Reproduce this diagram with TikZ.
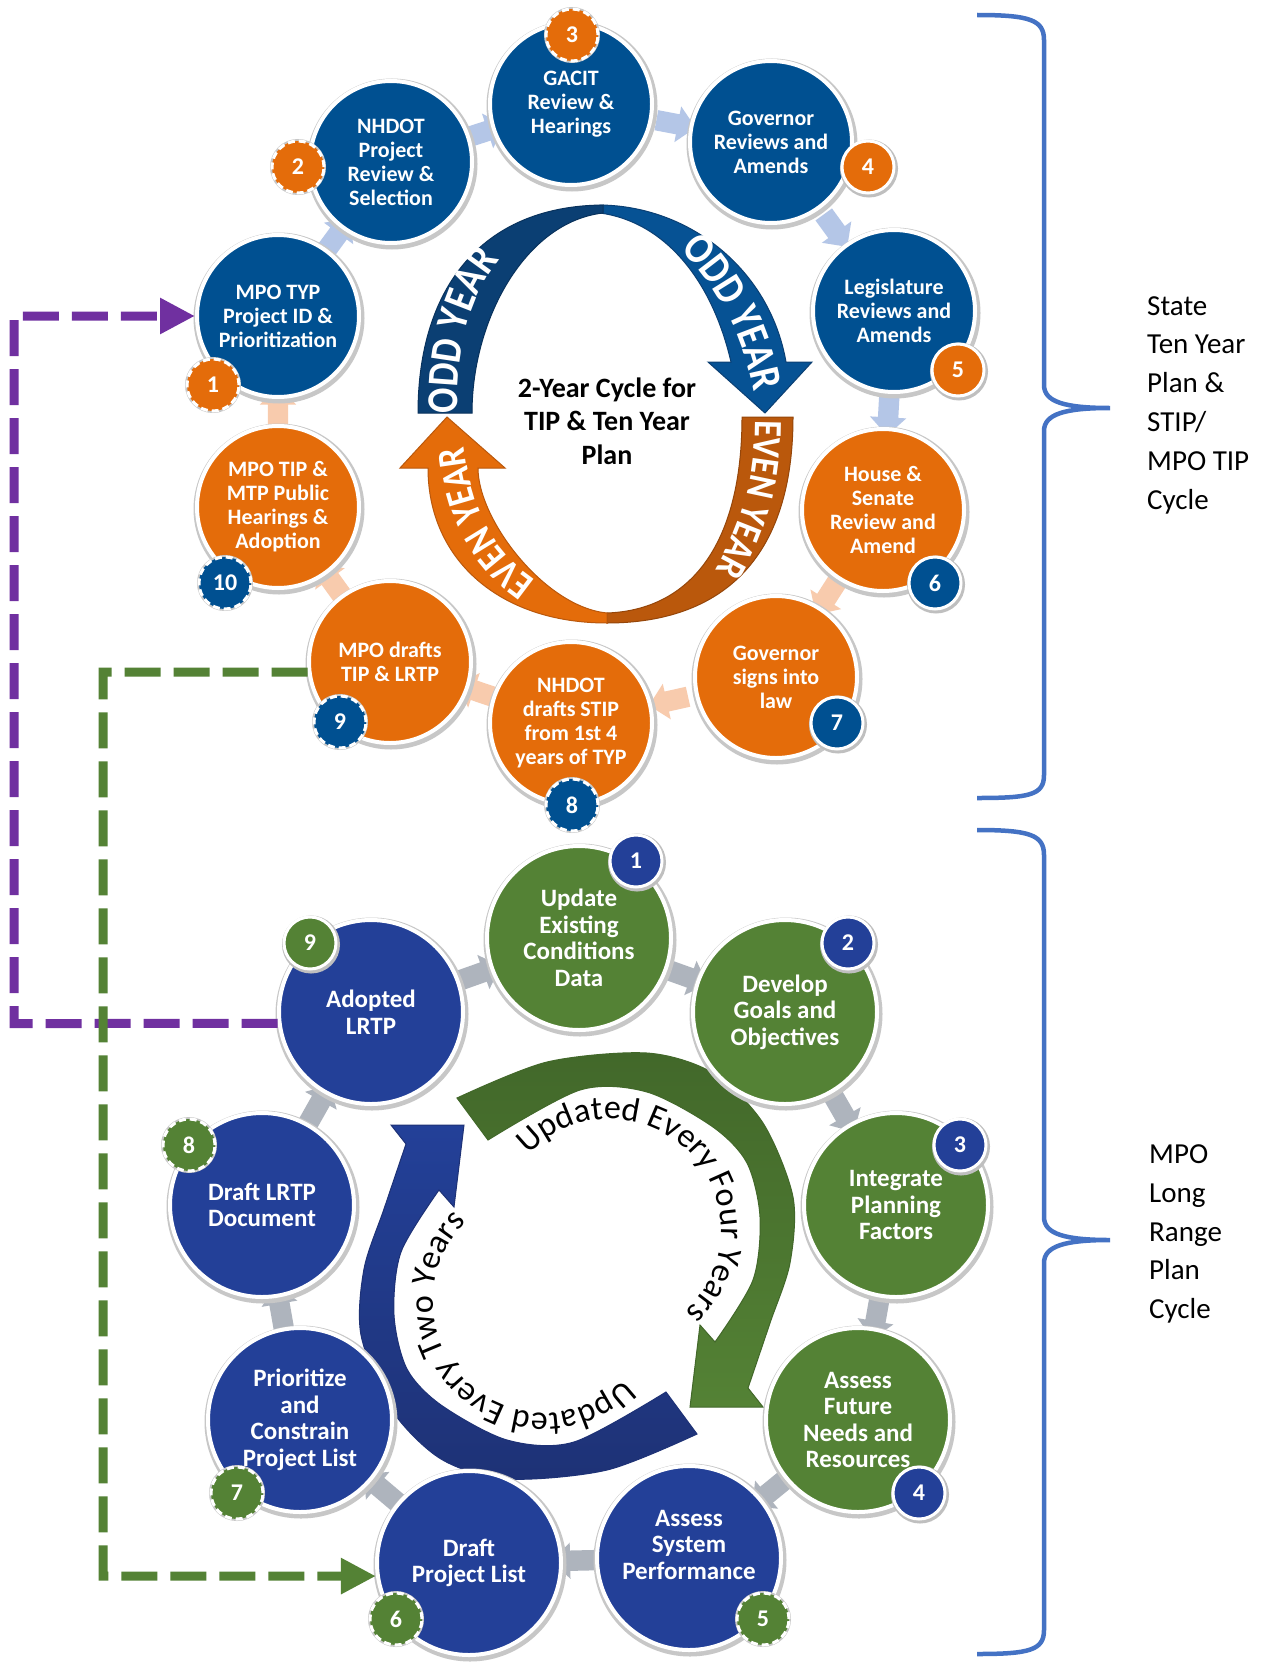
\documentclass[tikz,border=0pt]{standalone}
\usepackage{fontspec}
\setmainfont{Carlito}
\newfontfamily\archfont[FakeStretch=0.85]{Carlito}
\usetikzlibrary{arrows.meta,shapes.arrows,decorations.text}
\definecolor{ublue}{RGB}{0,80,145}
\definecolor{uorange}{RGB}{228,108,10}
\definecolor{lblue}{RGB}{35,64,152}
\definecolor{lgreen}{RGB}{84,130,53}
\definecolor{arrowblue}{RGB}{180,198,231}
\definecolor{arrowpeach}{RGB}{248,203,173}
\definecolor{arrowgray}{RGB}{174,180,189}
\definecolor{purpleconn}{RGB}{112,48,160}
\definecolor{greenconn}{RGB}{84,130,53}
\definecolor{bracecol}{RGB}{68,114,196}
\definecolor{odddark}{RGB}{11,63,115}
\definecolor{oddblue}{RGB}{6,82,148}
\definecolor{evendark}{RGB}{186,88,12}
\definecolor{evenorange}{RGB}{228,108,10}
\definecolor{ringgreen}{RGB}{84,130,53}
\definecolor{ringgreendark}{RGB}{66,104,42}
\definecolor{ringblue}{RGB}{35,64,152}
\definecolor{ringbluedark}{RGB}{30,50,118}
\begin{document}
\begin{tikzpicture}[x=1pt,y=-1pt,
  ucirc/.style={circle, minimum size=162pt, inner sep=0pt, draw=white, line width=4pt, text=white, align=center,
     font=\bfseries\fontsize{22}{24}\selectfont,
     preaction={draw=black!22, line width=9pt, transform canvas={shift={(1pt,-2pt)}}}},
  lcirc/.style={circle, minimum size=184pt, inner sep=0pt, draw=white, line width=4pt, text=white, align=center,
     font=\bfseries\fontsize{25}{26.5}\selectfont,
     preaction={draw=black!22, line width=9pt, transform canvas={shift={(1pt,-2pt)}}}},
  sbadge/.style={circle, minimum size=52pt, inner sep=0pt, draw=white, line width=3pt, text=white,
     font=\bfseries\fontsize{24}{24}\selectfont,
     preaction={draw=black!25, line width=6pt, transform canvas={shift={(1pt,-1.5pt)}}}},
  dbadge/.style={circle, minimum size=52pt, inner sep=0pt, draw=white, line width=3pt, dash pattern=on 7pt off 4pt, text=white,
     font=\bfseries\fontsize{24}{24}\selectfont,
     preaction={draw=black!22, line width=4pt, solid}},
  sarrow/.style={single arrow, single arrow head extend=8pt, minimum height=40pt, inner sep=0pt, sloped, allow upside down},
  larrow/.style={sarrow, minimum height=44pt, fill=arrowgray},
  conn/.style={line width=9pt, dash pattern=on 36pt off 13pt},
  archtext/.style={decorate, decoration={text along path, text color=white, text align=left}},
  ringtext/.style={decorate, decoration={text along path, text color=black, text align=center}},
]
\useasboundingbox (0,0) rectangle (1269,1662);
\fill[white] (0,0) rectangle (1269,1662);

% ---------- centres ----------
\coordinate (u1) at (278,316);
\coordinate (u2) at (391,162);
\coordinate (u3) at (571,104);
\coordinate (u4) at (771,142);
\coordinate (u5) at (894,311);
\coordinate (u6) at (883,510);
\coordinate (u7) at (776,677);
\coordinate (u8) at (571,723);
\coordinate (u9) at (390,662);
\coordinate (u10) at (278,507);
\coordinate (l1) at (579,938);
\coordinate (l2) at (785,1012);
\coordinate (l3) at (896,1205);
\coordinate (l4) at (858,1420);
\coordinate (l5) at (689,1558);
\coordinate (l6) at (469,1563);
\coordinate (l7) at (300,1420);
\coordinate (l8) at (262,1205);
\coordinate (l9) at (371,1012);

% ---------- small arrows ----------
\path (u1) -- (u2) node[midway, sarrow, fill=arrowblue] (ua1) {\rule{0pt}{20pt}};
\path (u2) -- (u3) node[midway, sarrow, fill=arrowblue] (ua2) {\rule{0pt}{20pt}};
\path (u3) -- (u4) node[midway, sarrow, fill=arrowblue] (ua3) {\rule{0pt}{20pt}};
\path (u4) -- (u5) node[midway, sarrow, fill=arrowblue] (ua4) {\rule{0pt}{20pt}};
\path (u5) -- (u6) node[midway, sarrow, fill=arrowblue] (ua5) {\rule{0pt}{20pt}};
\path (u6) -- (u7) node[midway, sarrow, fill=arrowpeach] (ua6) {\rule{0pt}{20pt}};
\path (u7) -- (u8) node[midway, sarrow, fill=arrowpeach] (ua7) {\rule{0pt}{20pt}};
\path (u8) -- (u9) node[midway, sarrow, fill=arrowpeach] (ua8) {\rule{0pt}{20pt}};
\path (u9) -- (u10) node[midway, sarrow, fill=arrowpeach] (ua9) {\rule{0pt}{20pt}};
\path (u10) -- (u1) node[midway, sarrow, fill=arrowpeach] (ua10) {\rule{0pt}{20pt}};
\path (l9) -- (l1) node[midway, larrow] (la1) {\rule{0pt}{20pt}};
\path (l1) -- (l2) node[midway, larrow] (la2) {\rule{0pt}{20pt}};
\path (l2) -- (l3) node[midway, larrow] (la3) {\rule{0pt}{20pt}};
\path (l3) -- (l4) node[midway, larrow] (la4) {\rule{0pt}{20pt}};
\path (l4) -- (l5) node[midway, larrow] (la5) {\rule{0pt}{20pt}};
\path (l5) -- (l6) node[midway, larrow] (la6) {\rule{0pt}{20pt}};
\path (l6) -- (l7) node[midway, larrow] (la7) {\rule{0pt}{20pt}};
\path (l7) -- (l8) node[midway, larrow] (la8) {\rule{0pt}{20pt}};
\path (l8) -- (l9) node[midway, larrow] (la9) {\rule{0pt}{20pt}};

% ---------- upper centre arches ----------
\fill[oddblue, draw=odddark, line width=1pt] (600,205) .. controls (690,206) and (770,270) .. (786,362) -- (812,362) -- (765,413) -- (708,362) -- (731,362) .. controls (712,280) and (665,222) .. (600,213) -- cycle;
\fill[odddark, draw=odddark!80!black, line width=1pt] (418,413) .. controls (418,290) and (480,206) .. (603,205) -- (603,213) .. controls (525,222) and (472,320) .. (472,413) -- cycle;
\fill[evendark, draw=evendark!80!black, line width=1pt] (742,417) -- (793,417) .. controls (793,580) and (700,623) .. (607,623) -- (607,613) .. controls (690,610) and (742,545) .. (742,417) -- cycle;
\fill[evenorange, draw=evendark, line width=1pt] (607,623) .. controls (500,623) and (428,560) .. (428,468) -- (400,468) -- (447,417) -- (505,468) -- (478,468) .. controls (478,520) and (545,607) .. (607,613) -- cycle;

\path[archtext, decoration={text={|\archfont\bfseries\fontsize{44}{44}\selectfont|ODD YEAR}}] (458,413) .. controls (456,320) and (482,262) .. (540,225);
\path[archtext, decoration={text={|\archfont\bfseries\fontsize{44}{44}\selectfont|ODD YEAR}}] (680,250) .. controls (715,285) and (745,330) .. (757,410);
\path[archtext, decoration={text={|\archfont\bfseries\fontsize{40}{40}\selectfont|EVEN YEAR}}] (755,420) .. controls (755,480) and (742,530) .. (700,595);
\path[archtext, decoration={text={|\archfont\bfseries\fontsize{40}{40}\selectfont|EVEN YEAR}}] (536,580) .. controls (490,548) and (464,505) .. (461,400);

\node[align=center, font=\bfseries\fontsize{28}{33.5}\selectfont] (ctitle) at (607,421) {2-Year Cycle for\\TIP \& Ten Year\\Plan};

% ---------- lower centre ring ----------
\path[draw=ringgreendark, line width=1pt, top color=ringgreendark, bottom color=ringgreen]
  plot[smooth] coordinates {(457,1098) (547,1062) (647,1053) (713,1073) (763,1123) (793,1197) (790,1263) (770,1323) (748,1388)}
  -- (763,1407) -- (690,1407) -- (700,1325) -- (715,1342)
  -- plot[smooth] coordinates {(715,1342) (753,1280) (760,1217) (747,1163) (713,1127) (647,1092) (580,1090) (488,1140)}
  -- cycle;
\begin{scope}[rotate around={180:(577,1266)}]
\path[draw=ringbluedark, line width=1pt, top color=ringblue, bottom color=ringbluedark]
  plot[smooth] coordinates {(457,1098) (547,1062) (647,1053) (713,1073) (763,1123) (793,1197) (790,1263) (770,1323) (748,1388)}
  -- (763,1407) -- (690,1407) -- (700,1325) -- (715,1342)
  -- plot[smooth] coordinates {(715,1342) (753,1280) (760,1217) (747,1163) (713,1127) (647,1092) (580,1090) (488,1140)}
  -- cycle;
\end{scope}
\path[ringtext, decoration={text={|\fontsize{34}{34}\selectfont|Updated Every Four Years}}] (610,1230) ++(-155:111) arc[start angle=-155, end angle=65, radius=111];
\path[ringtext, decoration={text={|\fontsize{34}{34}\selectfont|Updated Every Two Years}}] (544,1302) ++(25:111) arc[start angle=25, end angle=245, radius=111];

% ---------- upper circles ----------
\node[ucirc, fill=ublue] (U1) at (u1) {MPO TYP\\Project ID \&\\Prioritization};
\node[ucirc, fill=ublue] (U2) at (u2) {NHDOT\\Project\\Review \&\\Selection};
\node[ucirc, fill=ublue] (U3) at (u3) {GACIT\\Review \&\\Hearings};
\node[ucirc, fill=ublue] (U4) at (u4) {Governor\\Reviews and\\Amends};
\node[ucirc, fill=ublue] (U5) at (u5) {Legislature\\Reviews and\\Amends};
\node[ucirc, fill=uorange] (U6) at (u6) {House \&\\Senate\\Review and\\Amend};
\node[ucirc, fill=uorange] (U7) at (u7) {Governor\\signs into\\law};
\node[ucirc, fill=uorange] (U8) at (u8) {NHDOT\\drafts STIP\\from 1st 4\\years of TYP};
\node[ucirc, fill=uorange] (U9) at (u9) {MPO drafts\\TIP \& LRTP};
\node[ucirc, fill=uorange] (U10) at (u10) {MPO TIP \&\\MTP Public\\Hearings \&\\Adoption};

% ---------- lower circles ----------
\node[lcirc, fill=lgreen] (L1) at (l1) {Update\\Existing\\Conditions\\Data};
\node[lcirc, fill=lgreen] (L2) at (l2) {Develop\\Goals and\\Objectives};
\node[lcirc, fill=lgreen] (L3) at (l3) {Integrate\\Planning\\Factors};
\node[lcirc, fill=lgreen] (L4) at (l4) {Assess\\Future\\Needs and\\Resources};
\node[lcirc, fill=lblue] (L5) at (l5) {Assess\\System\\Performance\\\mbox{}};
\node[lcirc, fill=lblue] (L6) at (l6) {Draft\\Project List};
\node[lcirc, fill=lblue] (L7) at (l7) {Prioritize\\and\\Constrain\\Project List};
\node[lcirc, fill=lblue] (L8) at (l8) {Draft LRTP\\Document};
\node[lcirc, fill=lblue] (L9) at (l9) {Adopted\\LRTP};

% ---------- badges ----------
\node[dbadge, fill=uorange] (B1) at (213,385) {1};
\node[dbadge, fill=uorange] (B2) at (298,167) {2};
\node[dbadge, fill=uorange] (B3) at (572,35) {3};
\node[sbadge, fill=uorange] (B4) at (868,167) {4};
\node[sbadge, fill=uorange] (B5) at (958,370) {5};
\node[sbadge, fill=ublue] (B6) at (935,583) {6};
\node[sbadge, fill=ublue] (B7) at (837,723) {7};
\node[dbadge, fill=ublue] (B8) at (572,805) {8};
\node[dbadge, fill=ublue] (B9) at (340,722) {9};
\node[dbadge, fill=ublue] (B10) at (225,583) {10};
\node[sbadge, fill=lblue] (C1) at (636,861) {1};
\node[sbadge, fill=lblue] (C2) at (848,943) {2};
\node[sbadge, fill=lblue] (C3) at (960,1145) {3};
\node[sbadge, fill=lblue] (C4) at (919,1493) {4};
\node[dbadge, fill=lgreen] (C5) at (763,1619) {5};
\node[dbadge, fill=lgreen] (C6) at (396,1619) {6};
\node[dbadge, fill=lgreen] (C7) at (237,1493) {7};
\node[dbadge, fill=lgreen] (C8) at (189,1145) {8};
\node[sbadge, fill=lgreen] (C9) at (310,943) {9};

% ---------- dashed connectors ----------
\draw[conn, purpleconn, -{Triangle[length=35pt,width=34pt]}] (L9.187) -- (14,1023.5) -- (14,316) -- (U1.west);
\draw[conn, greenconn, -{Triangle[length=35pt,width=34pt]}] (U9.187) -- (103,672) -- (103,1576) -- (L6.188);

% ---------- braces and labels ----------
\draw[bracecol, line width=4.5pt] (977,15) .. controls (1030,15) and (1044,20) .. (1044,40) -- (1044,385) .. controls (1044,402) and (1065,408) .. (1110,408) .. controls (1065,408) and (1044,414) .. (1044,431) -- (1044,775) .. controls (1044,795) and (1030,798) .. (977,798);
\draw[bracecol, line width=4.5pt] (977,830) .. controls (1030,830) and (1044,835) .. (1044,855) -- (1044,1217) .. controls (1044,1234) and (1065,1240) .. (1110,1240) .. controls (1065,1240) and (1044,1246) .. (1044,1263) -- (1044,1630) .. controls (1044,1650) and (1030,1654) .. (977,1654);
\node[anchor=west, align=left, inner sep=0pt, font=\fontsize{29}{38.8}\selectfont] (lab1) at (1147,405) {State\\Ten Year\\Plan \&\\STIP/\\MPO TIP\\Cycle};
\node[anchor=west, align=left, inner sep=0pt, font=\fontsize{29}{38.8}\selectfont] (lab2) at (1149,1234) {MPO\\Long\\Range\\Plan\\Cycle};
\end{tikzpicture}
\end{document}
